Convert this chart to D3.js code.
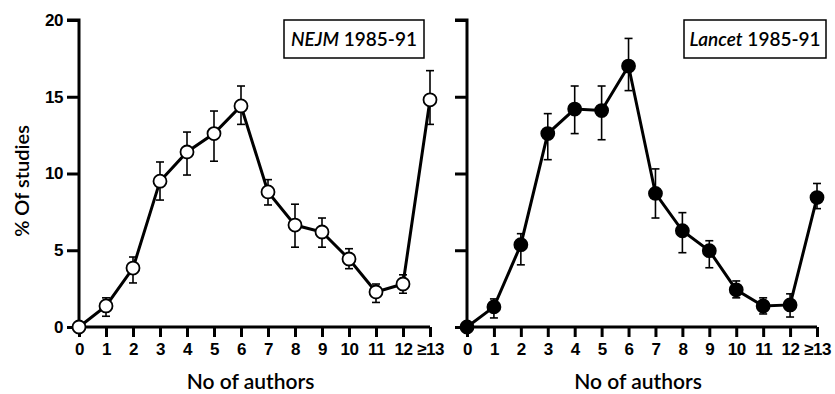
<!DOCTYPE html>
<html>
<head>
<meta charset="utf-8">
<script src="https://cdn.jsdelivr.net/npm/d3@7"></script>
<style>
  body { margin: 0; background: #fff; }
  svg { font-family: Lato, "DejaVu Sans", sans-serif; }
</style>
</head>
<body>
<script>
const categories = ["0", "1", "2", "3", "4", "5", "6", "7", "8", "9", "10", "11", "12", "≥13"];
const yTicks = [0, 5, 10, 15, 20];

const nejmValues = [0, 1.37, 3.84, 9.5, 11.4, 12.6, 14.4, 8.8, 6.64, 6.19, 4.43, 2.28, 2.8, 14.8];
const nejmLow    = [0, 0.7, 2.87, 8.27, 9.9, 10.8, 13.2, 7.95, 5.2, 5.2, 3.8, 1.6, 2.2, 13.2];
const nejmHigh   = [0, 1.9, 4.56, 10.75, 12.7, 14.07, 15.7, 9.6, 8.0, 7.1, 5.1, 2.8, 3.4, 16.7];

const lancetValues = [0, 1.31, 5.36, 12.6, 14.2, 14.1, 17.0, 8.7, 6.27, 4.97, 2.42, 1.37, 1.44, 8.43];
const lancetLow    = [0, 0.59, 4.05, 10.9, 12.6, 12.2, 15.4, 7.1, 4.84, 3.86, 1.9, 0.85, 0.65, 7.71];
const lancetHigh   = [0, 1.83, 6.08, 13.9, 15.7, 15.7, 18.8, 10.3, 7.45, 5.62, 3.0, 1.9, 2.16, 9.35];

const width = 835, height = 394;
const svg = d3.select("body").append("svg")
    .attr("width", width)
    .attr("height", height);

const panels = [
  { x0: 79, x1: 430, title: "NEJM", values: nejmValues, low: nejmLow, high: nejmHigh, fill: "#fff", yLabels: true, box: [284, 424] },
  { x0: 467, x1: 817, title: "Lancet", values: lancetValues, low: lancetLow, high: lancetHigh, fill: "#000", yLabels: false, box: [684, 826] }
];

const y = d3.scaleLinear().domain([0, 20]).range([327, 20]);

panels.forEach(p => {
  const x = d3.scalePoint().domain(categories).range([p.x0, p.x1]);
  const g = svg.append("g");

  // y axis
  const yAxis = g.append("g")
      .attr("transform", `translate(${p.x0},0)`)
      .call(d3.axisLeft(y).tickValues(yTicks).tickSize(12).tickPadding(4)
        .tickFormat(p.yLabels ? d3.format("d") : ""));
  yAxis.select(".domain").attr("d", `M-12,${y(20)}H0V${y(0)}`);

  // x axis
  const xAxis = g.append("g")
      .attr("transform", `translate(0,${y(0)})`)
      .call(d3.axisBottom(x).tickSize(10).tickPadding(6));
  xAxis.select(".domain").attr("d", `M${p.x0},0H${p.x1}`);

  g.selectAll(".domain, .tick line")
      .attr("stroke", "#000")
      .attr("stroke-width", 3);
  g.selectAll(".tick text")
      .attr("fill", "#000")
      .attr("font-size", 17)
      .attr("font-weight", 700)
      .attr("letter-spacing", -0.5);

  g.append("text")
      .attr("x", (p.x0 + p.x1) / 2 - 4)
      .attr("y", 389)
      .attr("text-anchor", "middle")
      .attr("font-size", 21)
      .attr("font-weight", 600)
      .text("No of authors");

  // error bars
  const eb = g.append("g").attr("stroke", "#000").attr("stroke-width", 1.6);
  categories.forEach((c, i) => {
    if (p.high[i] === p.low[i]) return;
    const cx = x(c);
    eb.append("line").attr("x1", cx).attr("x2", cx).attr("y1", y(p.low[i])).attr("y2", y(p.high[i]));
    eb.append("line").attr("x1", cx - 4).attr("x2", cx + 4).attr("y1", y(p.low[i])).attr("y2", y(p.low[i]));
    eb.append("line").attr("x1", cx - 4).attr("x2", cx + 4).attr("y1", y(p.high[i])).attr("y2", y(p.high[i]));
  });

  const line = d3.line()
      .x((d, i) => x(categories[i]))
      .y(d => y(d));

  g.append("path")
      .datum(p.values)
      .attr("d", line)
      .attr("fill", "none")
      .attr("stroke", "#000")
      .attr("stroke-width", 3);

  g.selectAll("circle.pt")
      .data(p.values)
      .join("circle")
      .attr("class", "pt")
      .attr("cx", (d, i) => x(categories[i]))
      .attr("cy", d => y(d))
      .attr("r", 6.5)
      .attr("fill", p.fill)
      .attr("stroke", "#000")
      .attr("stroke-width", 1.8);

  // legend box
  g.append("rect")
      .attr("x", p.box[0]).attr("y", 20)
      .attr("width", p.box[1] - p.box[0]).attr("height", 38)
      .attr("fill", "#fff")
      .attr("stroke", "#000")
      .attr("stroke-width", 1.5);
  const t = g.append("text")
      .attr("x", (p.box[0] + p.box[1]) / 2)
      .attr("y", 46)
      .attr("text-anchor", "middle")
      .attr("font-size", 19)
      .attr("font-weight", 600);
  t.append("tspan").attr("font-style", "italic").text(p.title);
  t.append("tspan").text(" 1985-91");
});

svg.append("text")
    .attr("transform", `translate(29,181) rotate(-90)`)
    .attr("text-anchor", "middle")
    .attr("font-size", 20)
    .attr("font-weight", 600)
    .text("% Of studies");
</script>
</body>
</html>
